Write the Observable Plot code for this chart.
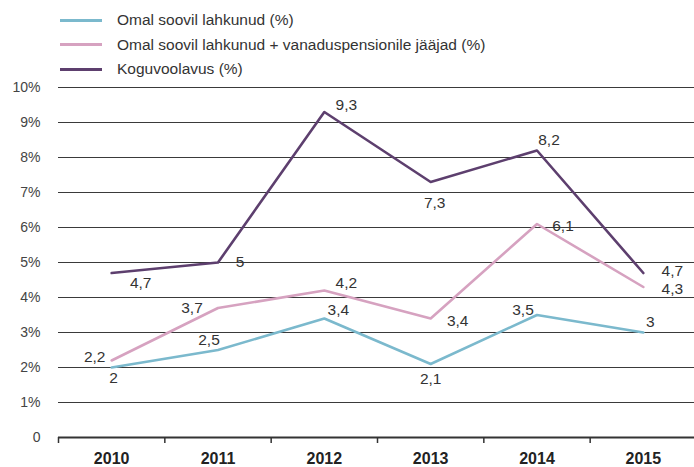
<!DOCTYPE html>
<html>
<head>
<meta charset="utf-8">
<script src="https://cdn.jsdelivr.net/npm/d3@7"></script>
<script src="https://cdn.jsdelivr.net/npm/@observablehq/plot@0.6"></script>
<style>
  body { margin: 0; background: #fff; }
  #wrap { position: relative; width: 694px; height: 467px; font-family: "Liberation Sans", Arial, sans-serif; }
  #legend { position: absolute; left: 60px; top: 8px; font-size: 15.5px; color: #333; }
  .item { display: flex; align-items: center; height: 24.5px; }
  .sw { width: 42px; height: 3px; margin-right: 15px; }
</style>
</head>
<body>
<div id="wrap"><div id="legend"></div></div>
<script>
const years = [2010, 2011, 2012, 2013, 2014, 2015];
const seriesNames = ["Omal soovil lahkunud (%)", "Omal soovil lahkunud + vanaduspensionile jääjad (%)", "Koguvoolavus (%)"];
const seriesColors = ["#7bb9cd", "#d6a2c0", "#5d3f6e"];
const omalSoovil = [2, 2.5, 3.4, 2.1, 3.5, 3];
const omalPlusVanadus = [2.2, 3.7, 4.2, 3.4, 6.1, 4.3];
const koguvoolavus = [4.7, 5, 9.3, 7.3, 8.2, 4.7];
const yTicks = [0, 1, 2, 3, 4, 5, 6, 7, 8, 9, 10];
// label nudges (px) for each value label
const blueOffsets = [[2, 11], [-9, -10], [14, -8], [0, 15], [-14, -5], [7, -10]];
const pinkOffsets = [[-17, -3], [-26, 0], [22, -7], [27, 3], [26, 2], [29, 2.5]];
const purpleOffsets = [[29, 10], [22, 0], [22, -7], [4, 21], [12, -10], [29, -1.5]];

const seriesValues = [omalSoovil, omalPlusVanadus, koguvoolavus];
const seriesOffsets = [blueOffsets, pinkOffsets, purpleOffsets];

const fmt = v => String(v).replace(".", ",");

const marks = [
  Plot.ruleY(yTicks.filter(d => d > 0), {y: d => d, stroke: "#3a3a3a", strokeWidth: 1.2}),
  Plot.ruleY([0], {stroke: "#333", strokeWidth: 2}),
  Plot.axisY({ticks: yTicks, tickSize: 0, tickPadding: 18, label: null, tickFormat: d => d === 0 ? "0" : d + "%", fontSize: 14, fill: "#444"}),
  Plot.axisX({ticks: years.map(y => y - 0.5), tickSize: 6, label: null, tickFormat: () => "", stroke: "#333", strokeWidth: 1.5}),
  Plot.axisX({ticks: years, tickSize: 0, tickPadding: 15, label: null, tickFormat: d => String(d), fontSize: 16, fontWeight: "bold", fill: "#222"})
];

seriesValues.forEach((vals, si) => {
  const data = years.map((y, i) => ({year: y, value: vals[i]}));
  marks.push(Plot.line(data, {x: "year", y: "value", stroke: seriesColors[si], strokeWidth: 2.6}));
  data.forEach((d, i) => {
    const [dx, dy] = seriesOffsets[si][i];
    marks.push(Plot.text([d], {x: "year", y: "value", text: d => fmt(d.value), dx, dy, fontSize: 15.5, fill: "#333"}));
  });
});

const chart = Plot.plot({
  width: 694,
  height: 467,
  marginLeft: 58,
  marginRight: 0,
  marginTop: 80,
  marginBottom: 30,
  style: {fontFamily: "Liberation Sans, Arial, sans-serif", background: "transparent", overflow: "visible"},
  x: {type: "linear", domain: [2009.5, 2015.5], range: [58, 696], axis: null},
  y: {domain: [0, 10], range: [437, 87], axis: null},
  marks
});
document.getElementById("wrap").prepend(chart);

const legend = document.getElementById("legend");
seriesNames.forEach((name, i) => {
  const it = document.createElement("div");
  it.className = "item";
  it.innerHTML = `<span class="sw" style="background:${seriesColors[i]}"></span><span>${name}</span>`;
  legend.appendChild(it);
});
</script>
</body>
</html>
